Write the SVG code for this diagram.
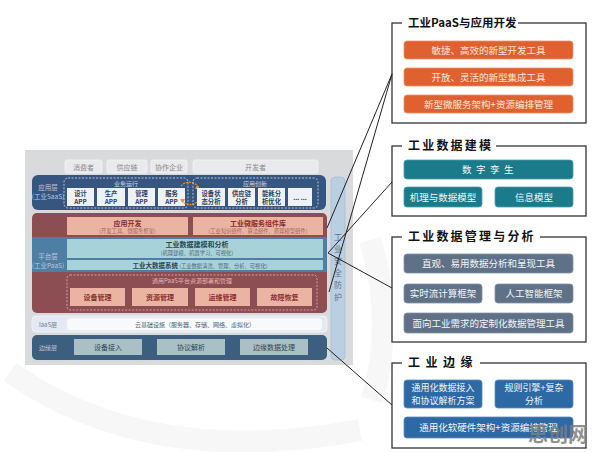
<svg xmlns="http://www.w3.org/2000/svg" width="596" height="452" viewBox="0 0 596 452">
<defs>
<style>
text{font-family:"Noto Sans CJK SC","Noto Sans",sans-serif}
.top{fill:#e9eaec;stroke:#f5f5f6;stroke-width:0.8}
.toptx{font-size:7px;fill:#8a8a8a;text-anchor:middle}
.lab{font-size:6.5px;fill:#b9c9de;text-anchor:middle}
.dash{fill:none;stroke:#d3deee;stroke-width:0.8;stroke-dasharray:2 1.5}
.dtitle{font-size:6px;fill:#c9d6e8;text-anchor:middle}
.app{fill:#eef2f7}
.apptx{font-size:6.3px;font-weight:bold;fill:#2b3f63;text-anchor:middle}
.pink{fill:#eab3a2}
.pinktx{font-size:7px;font-weight:bold;fill:#8b2e2e;text-anchor:middle}
.pinksub{font-size:5.3px;fill:#a9645a;text-anchor:middle}
.teal{fill:#a8d2da}
.tealtx{font-size:7px;font-weight:bold;fill:#2b4552;text-anchor:middle}
.tealsub{font-size:5.3px;fill:#4f6a75;text-anchor:middle}
.edge{fill:#a9c0c5}
.edgetx{font-size:7px;fill:#2e4756;text-anchor:middle}
.frame{fill:#fff;stroke:#333;stroke-width:1.3}
.tbg{fill:#fff}
.ttl{font-size:12px;font-weight:bold;fill:#111}
.or{fill:#e0612f;stroke:#ee9068;stroke-width:0.8}
.tl{fill:#1c7b8a;stroke:#4c9eaa;stroke-width:0.8}
.gb{fill:#5e7187;stroke:#8796a7;stroke-width:0.8}
.bl{fill:#2d69a5;stroke:#5a8cc0;stroke-width:0.8}
.btx{font-size:9.5px;fill:#f3f6f9;text-anchor:middle}
.btx2{font-size:9px;fill:#f3f6f9;text-anchor:middle}
.con{stroke:#222;stroke-width:1;fill:none}
</style>
</defs>
<rect width="596" height="452" fill="#ffffff"/>
<g id="bg-swirl" fill="none" stroke="#f7f7f8" stroke-width="22">
<path d="M10 372 Q150 470 360 430"/>
<path d="M370 240 Q395 320 372 400"/>
</g>

<!-- left architecture panel -->
<g id="arch-bg">
<rect x="25" y="150" width="328" height="215" fill="#d9dadc"/>
</g>

<g id="top-row">
<rect class="top" x="65" y="160" width="37" height="13" rx="2"/>
<text class="toptx" x="83.5" y="169.5">消费者</text>
<rect class="top" x="107" y="160" width="40" height="13" rx="2"/>
<text class="toptx" x="127" y="169.5">供应链</text>
<rect class="top" x="151" y="160" width="36" height="13" rx="2"/>
<text class="toptx" x="169" y="169.5">协作企业</text>
<rect class="top" x="193" y="160" width="125" height="13" rx="2"/>
<text class="toptx" x="255.5" y="169.5">开发者</text>
</g>

<g id="app-layer">
<rect x="32" y="175" width="294" height="35" rx="6" fill="#36557f"/>
<text class="lab" x="48" y="190">应用层</text>
<text class="lab" x="48" y="199">(工业SaaS)</text>
<rect class="dash" x="64" y="178" width="124" height="30" rx="4"/>
<text class="dtitle" x="126" y="185.5">业务运行</text>
<rect class="app" x="67" y="188" width="27" height="18"/>
<text class="apptx" x="80.5" y="195.5">设计</text><text class="apptx" x="80.5" y="203.5">APP</text>
<rect class="app" x="97" y="188" width="28" height="18"/>
<text class="apptx" x="111" y="195.5">生产</text><text class="apptx" x="111" y="203.5">APP</text>
<rect class="app" x="128" y="188" width="27" height="18"/>
<text class="apptx" x="141.5" y="195.5">管理</text><text class="apptx" x="141.5" y="203.5">APP</text>
<rect class="app" x="158" y="188" width="27" height="18"/>
<text class="apptx" x="171.5" y="195.5">服务</text><text class="apptx" x="171.5" y="203.5">APP</text>
<path d="M181 186 A11 11 0 0 1 199 188" fill="none" stroke="#e8913a" stroke-width="1.2" stroke-dasharray="2 1"/>
<path d="M199 200 A11 11 0 0 1 181 200" fill="none" stroke="#e8913a" stroke-width="1.2" stroke-dasharray="2 1"/>
<path d="M197 185 L200 189 L195 189 Z" fill="#e8913a"/>
<path d="M183 203 L180 199 L185 199 Z" fill="#e8913a"/>
<rect class="dash" x="193" y="178" width="125" height="30" rx="4"/>
<text class="dtitle" x="255" y="185.5">应用创新</text>
<rect class="app" x="197" y="188" width="28" height="18"/>
<text class="apptx" x="211" y="195.5">设备状</text><text class="apptx" x="211" y="203.5">态分析</text>
<rect class="app" x="228" y="188" width="27" height="18"/>
<text class="apptx" x="241.5" y="195.5">供应链</text><text class="apptx" x="241.5" y="203.5">分析</text>
<rect class="app" x="258" y="188" width="27" height="18"/>
<text class="apptx" x="271.5" y="195.5">能耗分</text><text class="apptx" x="271.5" y="203.5">析优化</text>
<rect class="app" x="288" y="188" width="24" height="18"/>
<text class="apptx" x="300" y="199.5">... ...</text>
</g>

<g id="platform-layer">
<rect x="32" y="213" width="295" height="100" rx="5" fill="#8c4d53"/>
<rect x="32" y="237" width="295" height="35" fill="#4d7ea3"/>
<text class="lab" x="48" y="259">平台层</text>
<text class="lab" x="48" y="268">(工业PaaS)</text>
<rect class="pink" x="67" y="217" width="121" height="18"/>
<text class="pinktx" x="127.5" y="225.5">应用开发</text>
<text class="pinksub" x="127.5" y="232.5">(开发工具、微服务框架)</text>
<rect class="pink" x="193" y="217" width="130" height="18"/>
<text class="pinktx" x="258" y="225.5">工业微服务组件库</text>
<text class="pinksub" x="258" y="232.5">(工业知识组件、算法组件、原理模型组件)</text>
<rect class="teal" x="67" y="239" width="256" height="19"/>
<text class="tealtx" x="197" y="247">工业数据建模和分析</text>
<text class="tealsub" x="197" y="254.5">(机理建模、机器学习、可视化)</text>
<rect class="teal" x="67" y="260" width="256" height="10"/>
<text x="200" y="267.5" style="font-size:6.5px;fill:#2b4552;text-anchor:middle"><tspan font-weight="bold">工业大数据系统</tspan><tspan style="font-size:5.3px;fill:#4f6a75"> (工业数据清洗、管理、分析、可视化)</tspan></text>
<rect x="67" y="275" width="250" height="35" rx="3" fill="none" stroke="#e3b6b0" stroke-width="0.8" stroke-dasharray="2 1.5"/>
<text x="192" y="283" style="font-size:6px;fill:#e9b5ab;text-anchor:middle">通用PaaS平台资源部署和管理</text>
<rect class="pink" x="70" y="288" width="55" height="18"/>
<text class="pinktx" x="97.5" y="299.5">设备管理</text>
<rect class="pink" x="132" y="288" width="56" height="18"/>
<text class="pinktx" x="160" y="299.5">资源管理</text>
<rect class="pink" x="195" y="288" width="55" height="18"/>
<text class="pinktx" x="222.5" y="299.5">运维管理</text>
<rect class="pink" x="257" y="288" width="55" height="18"/>
<text class="pinktx" x="284.5" y="299.5">故障恢复</text>
</g>

<g id="iaas-layer">
<rect x="32" y="316" width="295" height="16" rx="4" fill="#e3eaf3" stroke="#f5f7fa" stroke-width="0.8"/>
<text x="48" y="326.5" style="font-size:6px;fill:#6c7f98;text-anchor:middle">IaaS层</text>
<rect x="67" y="318.5" width="255" height="11.5" rx="3" fill="#f7f9fb"/>
<text x="195" y="326.5" style="font-size:6px;fill:#556070;text-anchor:middle">云基础设施（服务器、存储、网络、虚拟化）</text>
</g>

<g id="edge-layer">
<rect x="32" y="335" width="295" height="25" rx="5" fill="#3c5f80"/>
<text class="lab" x="48" y="350" style="font-size:6px">边缘层</text>
<rect class="edge" x="74" y="339" width="68" height="16"/>
<text class="edgetx" x="108" y="349.5">设备接入</text>
<rect class="edge" x="157" y="339" width="68" height="16"/>
<text class="edgetx" x="191" y="349.5">协议解析</text>
<rect class="edge" x="240" y="339" width="68" height="16"/>
<text class="edgetx" x="274" y="349.5">边缘数据处理</text>
</g>

<g id="security">
<rect x="331" y="177" width="14" height="183" rx="4" fill="#bacfe2" stroke="#a8bed3" stroke-width="0.8"/>
<text x="338" y="240" style="font-size:8px;fill:#5d728c;text-anchor:middle"><tspan x="338">工</tspan><tspan x="338" dy="12">业</tspan><tspan x="338" dy="12">安</tspan><tspan x="338" dy="12">全</tspan><tspan x="338" dy="12">防</tspan><tspan x="338" dy="12">护</tspan></text>
</g>

<!-- right side boxes -->
<g id="paas-dev">
<rect class="frame" x="392" y="23" width="194" height="100"/>
<rect class="tbg" x="402" y="14" width="116" height="16"/>
<text class="ttl" x="408" y="27" style="font-size:11.5px">工业PaaS与应用开发</text>
<rect class="or" x="404" y="41" width="169" height="18" rx="3"/>
<text class="btx" x="488.5" y="53.5" style="fill:#fbe6dc">敏捷、高效的新型开发工具</text>
<rect class="or" x="404" y="68" width="169" height="18" rx="3"/>
<text class="btx" x="488.5" y="80.5" style="fill:#fbe6dc">开放、灵活的新型集成工具</text>
<rect class="or" x="404" y="95" width="169" height="18" rx="3"/>
<text class="btx" x="488.5" y="107.5" style="fill:#fbe6dc">新型微服务架构+资源编排管理</text>
</g>

<g id="data-modeling">
<rect class="frame" x="392" y="146" width="194" height="70"/>
<rect class="tbg" x="402" y="137" width="94" height="16"/>
<text class="ttl" x="408" y="150" letter-spacing="2.2">工业数据建模</text>
<rect class="tl" x="404" y="160" width="169" height="19" rx="3"/>
<text class="btx" x="490" y="173" letter-spacing="4.5">数字孪生</text>
<rect class="tl" x="404" y="187" width="78" height="20" rx="3"/>
<text class="btx" x="443" y="200.5">机理与数据模型</text>
<rect class="tl" x="495" y="187" width="78" height="20" rx="3"/>
<text class="btx" x="534" y="200.5">信息模型</text>
</g>

<g id="data-management">
<rect class="frame" x="392" y="237" width="194" height="105"/>
<rect class="tbg" x="402" y="228" width="138" height="16"/>
<text class="ttl" x="408" y="241" letter-spacing="2.2">工业数据管理与分析</text>
<rect class="gb" x="404" y="254" width="169" height="19" rx="3"/>
<text class="btx" x="488.5" y="267">直观、易用数据分析和呈现工具</text>
<rect class="gb" x="404" y="284" width="78" height="19" rx="3"/>
<text class="btx" x="443" y="297">实时流计算框架</text>
<rect class="gb" x="495" y="284" width="78" height="19" rx="3"/>
<text class="btx" x="534" y="297">人工智能框架</text>
<rect class="gb" x="404" y="313" width="169" height="20" rx="3"/>
<text class="btx" x="488.5" y="326.5">面向工业需求的定制化数据管理工具</text>
</g>

<g id="industrial-edge">
<rect class="frame" x="392" y="363" width="194" height="85"/>
<rect class="tbg" x="402" y="354" width="78" height="16"/>
<text class="ttl" x="408" y="367" letter-spacing="5.5">工业边缘</text>
<rect class="bl" x="404" y="380" width="78" height="28" rx="3"/>
<text class="btx2" x="443" y="390.5">通用化数据接入</text>
<text class="btx2" x="443" y="403.5">和协议解析方案</text>
<rect class="bl" x="495" y="380" width="78" height="28" rx="3"/>
<text class="btx2" x="534" y="390.5">规则引擎+复杂</text>
<text class="btx2" x="534" y="403.5">分析</text>
<rect class="bl" x="404" y="417" width="169" height="21" rx="3"/>
<text class="btx" x="488.5" y="431">通用化软硬件架构+资源编排管理</text>
</g>

<g id="connectors">
<line class="con" x1="392" y1="74" x2="327" y2="228"/>
<line class="con" x1="392" y1="74" x2="329" y2="292"/>
<line class="con" x1="392" y1="182" x2="328" y2="253"/>
<line class="con" x1="328" y1="253" x2="392" y2="288"/>
<line class="con" x1="327" y1="348" x2="392" y2="405"/>
</g>

<g id="watermark">
<text x="528" y="442" style="font-size:20px;font-weight:bold;fill:#7d7d7d;opacity:0.85">思创网</text>
</g>
</svg>
